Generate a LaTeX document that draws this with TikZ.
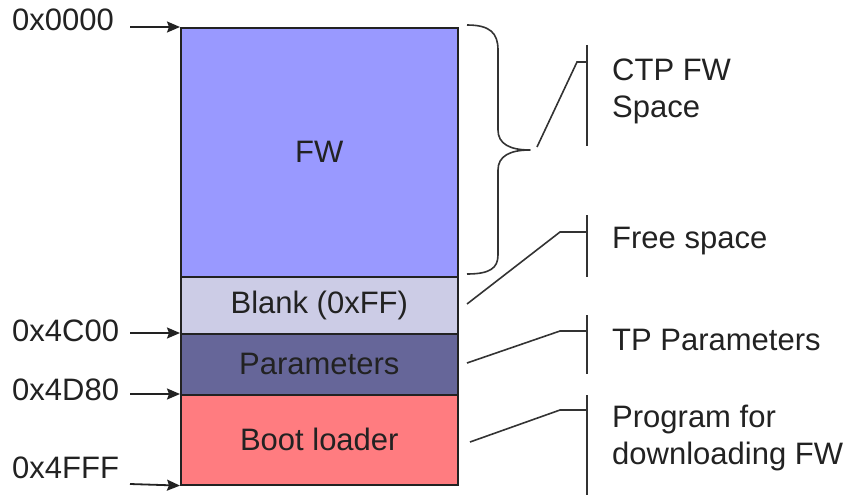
\documentclass[tikz,border=0pt]{standalone}
\usepackage{fontspec}
\setmainfont{Liberation Sans}
\usetikzlibrary{arrows.meta}

\definecolor{fwfill}{HTML}{9999FF}
\definecolor{blankfill}{HTML}{CCCCE6}
\definecolor{parfill}{HTML}{666699}
\definecolor{bootfill}{HTML}{FF7C80}
\definecolor{ink}{HTML}{222222}
\definecolor{rule}{HTML}{333333}

\tikzset{
  seg/.style={draw=ink, line width=1.6pt, rectangle, inner sep=0pt,
    minimum width=277pt, anchor=north west},
  segtext/.style={text=ink, font=\fontsize{31}{36}\selectfont},
  addr/.style={anchor=west, inner sep=0pt, text=ink,
    font=\fontsize{31}{36}\selectfont},
  note/.style={anchor=west, inner sep=0pt, text=ink, align=left,
    font=\fontsize{31}{37}\selectfont},
  ptr/.style={draw=ink, line width=1.8pt,
    -{Stealth[length=13pt,width=11pt,inset=2pt]}},
  lead/.style={draw=rule, line width=1.6pt},
}

\begin{document}
\begin{tikzpicture}[x=1pt,y=-1pt]
\useasboundingbox (0,0) rectangle (850,495);

% memory map segments
\node[seg, fill=fwfill, minimum height=249pt] (fw) at (180,27) {};
\node[seg, fill=blankfill, minimum height=57pt] (blank) at (180,276) {};
\node[seg, fill=parfill, minimum height=61pt] (par) at (180,333) {};
\node[seg, fill=bootfill, minimum height=90pt] (boot) at (180,394) {};
\node[segtext] (fwt) at (fw.center) {FW};
\node[segtext] (blankt) at (blank.center) {Blank (0xFF)};
\node[segtext] (part) at (par.center) {Parameters};
\node[segtext] (boott) at (boot.center) {Boot loader};

% address labels and pointers
\node[addr] (l0) at (12,20) {0x0000};
\node[addr] (l1) at (12,331) {0x4C00};
\node[addr] (l2) at (12,390) {0x4D80};
\node[addr] (l3) at (12,468) {0x4FFF};
\coordinate (p0) at (130,27);
\coordinate (p1) at (130,333);
\coordinate (p2) at (130,394);
\coordinate (p3) at (130,484);
\draw[ptr] (p0) -- (fw.north west);
\draw[ptr] (p1) -- (par.north west);
\draw[ptr] (p2) -- (boot.north west);
\draw[ptr] (p3) -- (boot.south west);

% brace over the firmware area
\coordinate (tip) at (530,150);
\draw[lead, line join=round] (467,25) .. controls (490,25) and (498,33) .. (498,50) -- (498,130)
  .. controls (498,144) and (510,150) .. (tip)
  .. controls (510,150) and (498,156) .. (498,170) -- (498,255)
  .. controls (498,268) and (490,274) .. (467,274);

% callout bars
\coordinate (b1t) at (587,45);  \coordinate (b1b) at (587,146);
\coordinate (b2t) at (587,215); \coordinate (b2b) at (587,277);
\coordinate (b3t) at (587,315); \coordinate (b3b) at (587,374);
\coordinate (b4t) at (587,395); \coordinate (b4b) at (587,495);
\draw[lead] (b1t) -- (b1b);
\draw[lead] (b2t) -- (b2b);
\draw[lead] (b3t) -- (b3b);
\draw[lead] (b4t) -- (b4b);

% leader lines
\coordinate (s1) at (537,147);
\coordinate (s2) at (467,304);
\coordinate (s3) at (467,363);
\coordinate (s4) at (470,442);
\draw[lead] (s1) -- (577,62) -- (587,62);
\draw[lead] (s2) -- (560,232) -- (587,232);
\draw[lead] (s3) -- (560,331) -- (587,331);
\draw[lead] (s4) -- (560,410) -- (587,410);

% callout texts
\node[note] (n1) at (612,91) {CTP FW\\Space};
\node[note] (n2) at (612,241) {Free space};
\node[note] (n3) at (612,340) {TP Parameters};
\node[note] (n4) at (612,438) {Program for\\downloading FW};
\end{tikzpicture}
\end{document}
